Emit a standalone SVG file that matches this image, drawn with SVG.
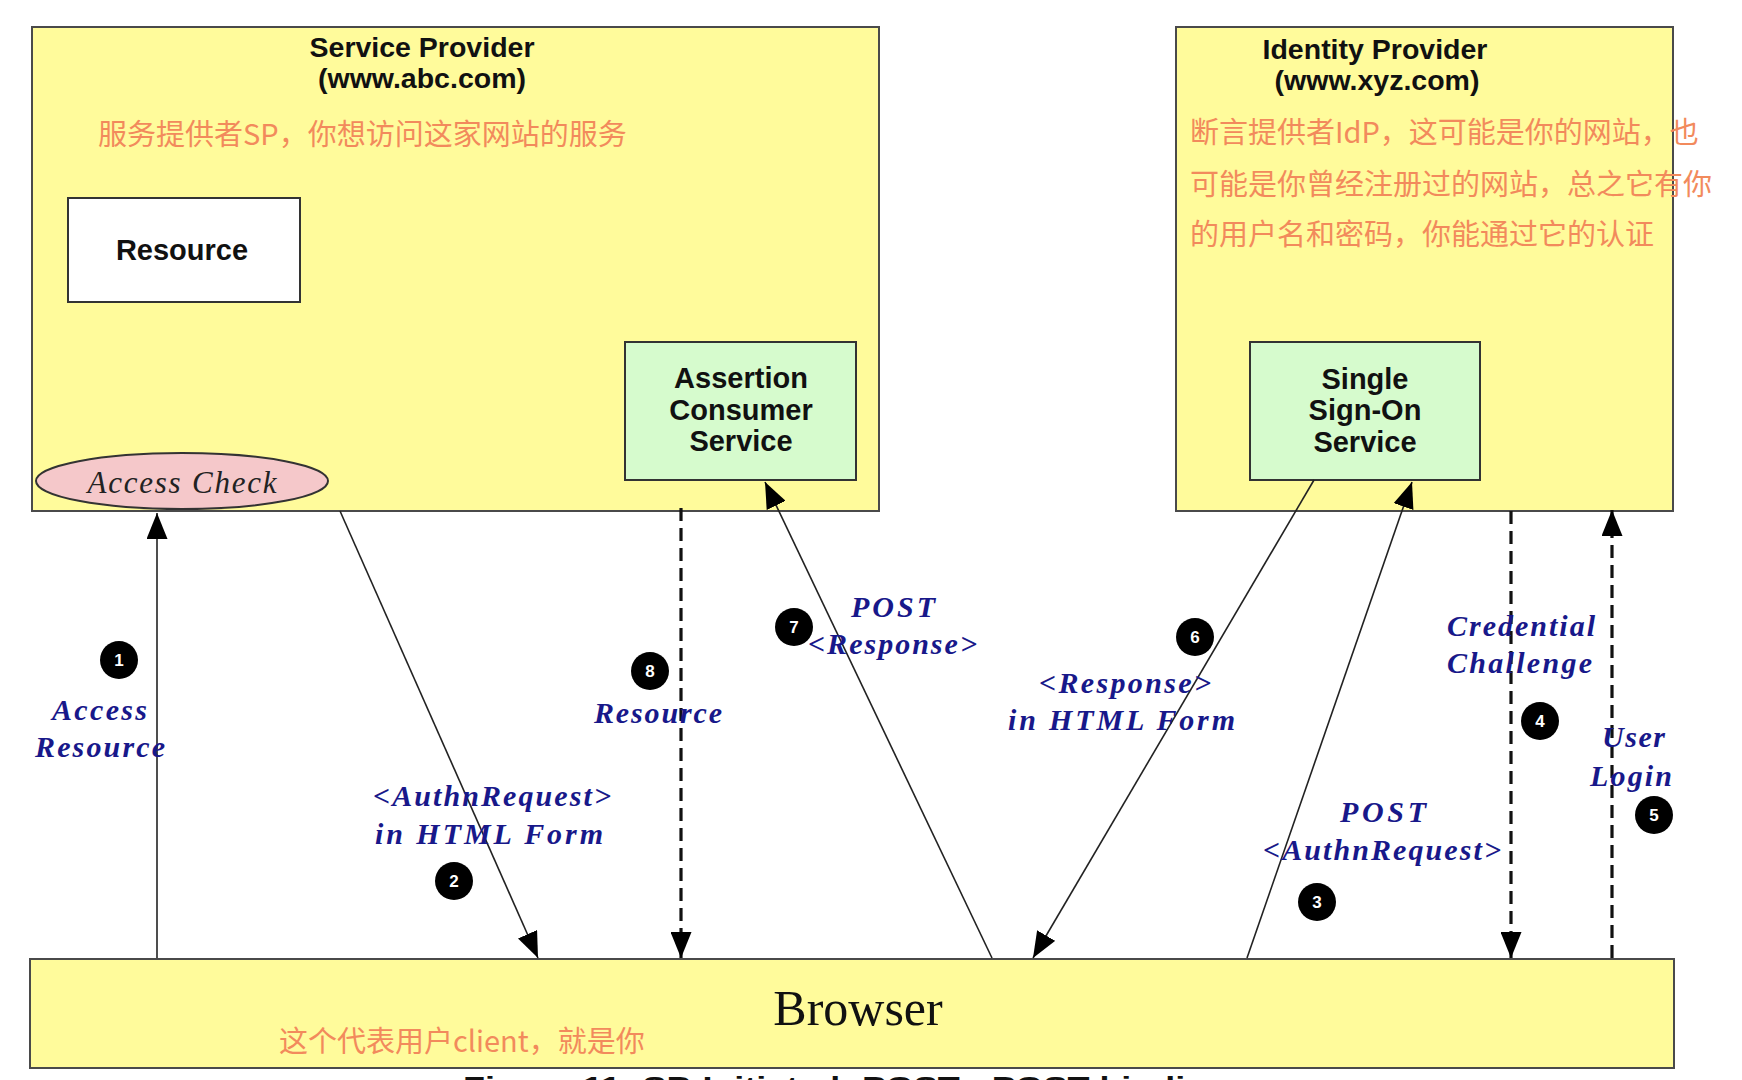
<svg xmlns="http://www.w3.org/2000/svg" width="1742" height="1080" viewBox="0 0 1742 1080">
<defs>
<style>
.box{fill:#FFFB9B;stroke:#4a4a4a;stroke-width:2}
.svc{fill:#D6FBCD;stroke:#333;stroke-width:2}
.wbox{fill:#fff;stroke:#333;stroke-width:2}
.title{font-family:"Liberation Sans",Arial,sans-serif;font-weight:bold;font-size:28.5px;fill:#111;text-anchor:middle}
.node{font-family:"Liberation Sans",Arial,sans-serif;font-weight:bold;font-size:29px;fill:#111;text-anchor:middle}
.cn{font-family:"Noto Sans CJK SC","Noto Sans",sans-serif;font-size:29px;fill:#F28A5C}
.lbl{font-family:"Liberation Serif","Times New Roman",serif;font-weight:bold;font-style:italic;font-size:30px;fill:#18188A}
.solid{stroke:#222;stroke-width:1.6;fill:none}
.dash{stroke:#111;stroke-width:3.2;fill:none;stroke-dasharray:13 7}
.badge circle{fill:#000}
.badge text{font-family:"Liberation Sans",Arial,sans-serif;font-weight:bold;font-size:17px;fill:#fff;text-anchor:middle}
</style>
<marker id="ah" viewBox="0 0 26 21" refX="26" refY="10.5" markerWidth="26" markerHeight="21" markerUnits="userSpaceOnUse" orient="auto">
<path d="M0,0 L26,10.5 L0,21 z" fill="#000"/>
</marker>
</defs>
<rect width="1742" height="1080" fill="#fff"/>

<g id="sp">
<rect class="box" x="32" y="27" width="847" height="484"/>
<text class="title" x="422" y="57">Service Provider</text>
<text class="title" x="422" y="88">(www.abc.com)</text>
<text class="cn" x="98" y="145">服务提供者SP，你想访问这家网站的服务</text>
</g>

<g id="idp">
<rect class="box" x="1176" y="27" width="497" height="484"/>
<text class="title" x="1375" y="59">Identity Provider</text>
<text class="title" x="1377" y="90">(www.xyz.com)</text>
<text class="cn" x="1190" y="143">断言提供者IdP，这可能是你的网站，也</text>
<text class="cn" x="1190" y="195">可能是你曾经注册过的网站，总之它有你</text>
<text class="cn" x="1190" y="245">的用户名和密码，你能通过它的认证</text>
</g>

<g id="resource">
<rect class="wbox" x="68" y="198" width="232" height="104"/>
<text class="node" x="182" y="260">Resource</text>
</g>

<g id="access-check">
<ellipse cx="182" cy="481" rx="146" ry="28" fill="#F5C8CA" stroke="#333" stroke-width="2"/>
<text x="182" y="493" text-anchor="middle" font-family="'Liberation Serif','Times New Roman',serif" font-style="italic" font-size="31" fill="#222" textLength="189" lengthAdjust="spacing">Access Check</text>
</g>

<g id="acs">
<rect class="svc" x="625" y="342" width="231" height="138"/>
<text class="node" x="741" y="388">Assertion</text>
<text class="node" x="741" y="420">Consumer</text>
<text class="node" x="741" y="451">Service</text>
</g>

<g id="sso">
<rect class="svc" x="1250" y="342" width="230" height="138"/>
<text class="node" x="1365" y="389">Single</text>
<text class="node" x="1365" y="420">Sign-On</text>
<text class="node" x="1365" y="452">Service</text>
</g>

<g id="browser">
<rect class="box" x="30" y="959" width="1644" height="109"/>
<text x="858" y="1025" text-anchor="middle" font-family="'Liberation Serif','Times New Roman',serif" font-size="50" fill="#111">Browser</text>
<text class="cn" x="279" y="1052">这个代表用户client，就是你</text>
</g>

<g id="connectors">
<line class="solid" x1="157" y1="958" x2="157" y2="513" marker-end="url(#ah)"/>
<line class="solid" x1="340" y1="511" x2="538" y2="958" marker-end="url(#ah)"/>
<line class="dash" x1="681" y1="508" x2="681" y2="958" marker-end="url(#ah)"/>
<line class="solid" x1="992" y1="958" x2="765" y2="482" marker-end="url(#ah)"/>
<line class="solid" x1="1314" y1="480" x2="1033" y2="958" marker-end="url(#ah)"/>
<line class="solid" x1="1247" y1="958" x2="1412" y2="482" marker-end="url(#ah)"/>
<line class="dash" x1="1511" y1="511" x2="1511" y2="958" marker-end="url(#ah)"/>
<line class="dash" x1="1612" y1="958" x2="1612" y2="510" marker-end="url(#ah)"/>
</g>

<g id="labels" xml:space="preserve">
<text class="lbl" x="52" y="720" textLength="95" lengthAdjust="spacing">Access</text>
<text class="lbl" x="35" y="757" textLength="130" lengthAdjust="spacing">Resource</text>
<text class="lbl" x="594" y="723" textLength="128" lengthAdjust="spacing">Resource</text>
<text class="lbl" x="373" y="806" textLength="238" lengthAdjust="spacing">&lt;AuthnRequest&gt;</text>
<text class="lbl" x="375" y="844" textLength="228" lengthAdjust="spacing">in  HTML Form</text>
<text class="lbl" x="851" y="617" textLength="84" lengthAdjust="spacing">POST</text>
<text class="lbl" x="808" y="654" textLength="169" lengthAdjust="spacing">&lt;Response&gt;</text>
<text class="lbl" x="1039" y="693" textLength="172" lengthAdjust="spacing">&lt;Response&gt;</text>
<text class="lbl" x="1008" y="730" textLength="227" lengthAdjust="spacing">in  HTML Form</text>
<text class="lbl" x="1447" y="636" textLength="148" lengthAdjust="spacing">Credential</text>
<text class="lbl" x="1447" y="673" textLength="145" lengthAdjust="spacing">Challenge</text>
<text class="lbl" x="1602" y="747" textLength="63" lengthAdjust="spacing">User</text>
<text class="lbl" x="1590" y="786" textLength="82" lengthAdjust="spacing">Login</text>
<text class="lbl" x="1340" y="822" textLength="86" lengthAdjust="spacing">POST</text>
<text class="lbl" x="1263" y="860" textLength="238" lengthAdjust="spacing">&lt;AuthnRequest&gt;</text>
</g>

<g id="badges">
<g class="badge"><circle cx="119" cy="660" r="19"/><text x="119" y="666">1</text></g>
<g class="badge"><circle cx="454" cy="881" r="19"/><text x="454" y="887">2</text></g>
<g class="badge"><circle cx="1317" cy="902" r="19"/><text x="1317" y="908">3</text></g>
<g class="badge"><circle cx="1540" cy="721" r="19"/><text x="1540" y="727">4</text></g>
<g class="badge"><circle cx="1654" cy="815" r="19"/><text x="1654" y="821">5</text></g>
<g class="badge"><circle cx="1195" cy="637" r="19"/><text x="1195" y="643">6</text></g>
<g class="badge"><circle cx="794" cy="627" r="19"/><text x="794" y="633">7</text></g>
<g class="badge"><circle cx="650" cy="671" r="19"/><text x="650" y="677">8</text></g>
</g>

<text x="463" y="1095" font-family="'Liberation Sans',Arial,sans-serif" font-weight="bold" font-size="26" fill="#111" textLength="766" lengthAdjust="spacingAndGlyphs">Figure 11: SP-Initiated: POST - POST binding</text>
</svg>
